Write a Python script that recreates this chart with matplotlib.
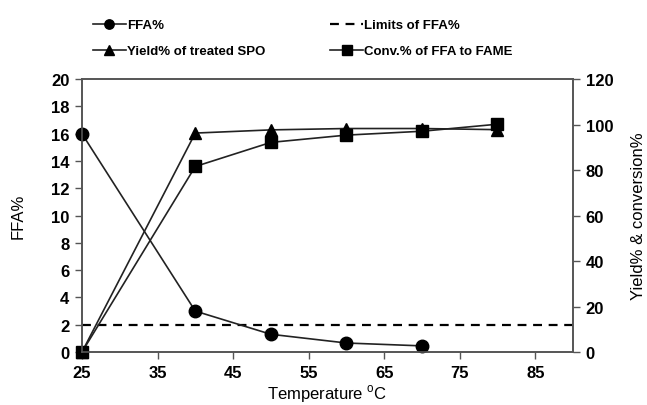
import matplotlib.pyplot as plt

plt.rcParams['font.family'] = ['Liberation Sans', 'DejaVu Sans']
plt.rcParams['font.weight'] = 'bold'

temps = [25, 40, 50, 60, 70]
ffa = [16, 3, 1.3, 0.66, 0.45]
temps_right = [25, 40, 50, 60, 70, 80]
yield_spo = [0, 96.3, 97.7, 98.3, 98.3, 97.8]
conv_fame = [0, 81.6, 92.2, 95.4, 97.1, 100.2]
ffa_limit = 2

fig = plt.figure(figsize=(6.47, 4.06), dpi=100)
ax = fig.add_axes([0.1267, 0.1305, 0.759, 0.672])
ax2 = ax.twinx()

lc = '#222222'
h1, = ax.plot(temps, ffa, color=lc, lw=1.2, marker='o', ms=9, mfc='black', mec='black', clip_on=False, zorder=3)
h3 = ax.axhline(ffa_limit, color='black', lw=1.6, ls=(0, (4, 3)))
h2, = ax2.plot(temps_right, yield_spo, color=lc, lw=1.2, marker='^', ms=9, mfc='black', mec='black', clip_on=False)
h4, = ax2.plot(temps_right, conv_fame, color=lc, lw=1.2, marker='s', ms=9, mfc='black', mec='black', clip_on=False)

ax.set_xlim(25, 90)
ax.set_ylim(0, 20)
ax2.set_ylim(0, 120)
ax.set_xticks(range(25, 90, 10))
ax.set_yticks(range(0, 21, 2))
ax2.set_yticks(range(0, 121, 20))

for a in (ax, ax2):
    a.tick_params(labelsize=12, length=5, width=1, color='#555555', pad=4)
    for s in a.spines.values():
        s.set_color('#555555')
        s.set_linewidth(1.2)

ax.set_xlabel('Temperature $^{\\mathregular{o}}$C', fontsize=12, fontweight='normal', labelpad=2)
ax.set_ylabel('FFA%', fontsize=12, fontweight='normal', labelpad=18)
ax2.set_ylabel('Yield% & conversion%', fontsize=12, fontweight='normal', labelpad=13)

fig.legend([h1, h2, h3, h4],
           ['FFA%', 'Yield% of treated SPO', 'Limits of FFA%', 'Conv.% of FFA to FAME'],
           ncol=2, loc='upper left', bbox_to_anchor=(0.125, 0.98), frameon=False,
           fontsize=9.5, handlelength=2.5, handletextpad=0.1, columnspacing=4.9,
           labelspacing=1.05, markerscale=0.75)

fig.savefig('out.png', dpi=100)
